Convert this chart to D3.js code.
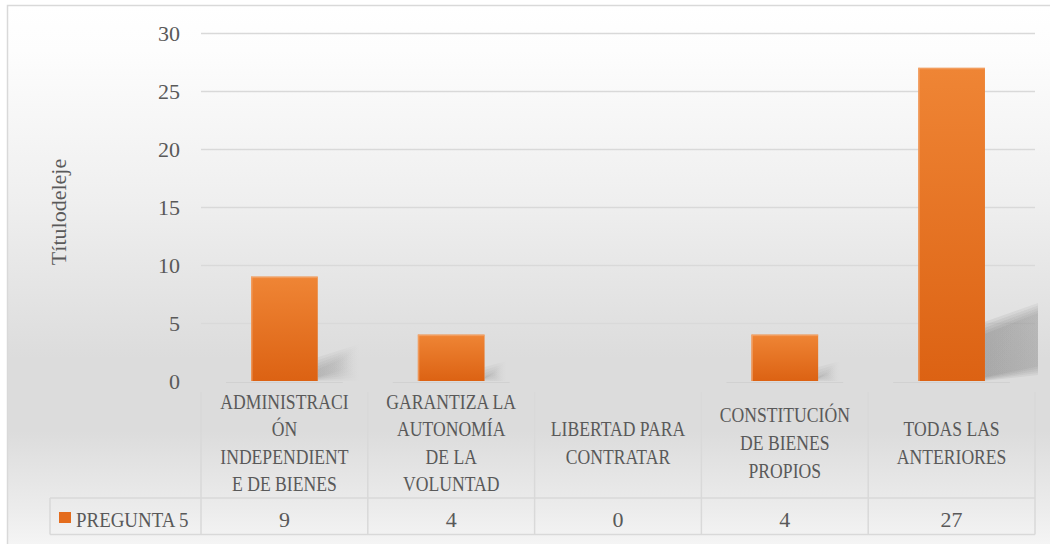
<!DOCTYPE html>
<html><head><meta charset="utf-8">
<script src="https://cdnjs.cloudflare.com/ajax/libs/d3/7.8.5/d3.min.js"></script>
</head><body>
<svg id="c" width="1050" height="544"></svg>
<script>
const categories = ["ADMINISTRACIÓN INDEPENDIENTE DE BIENES","GARANTIZA LA AUTONOMÍA DE LA VOLUNTAD","LIBERTAD PARA CONTRATAR","CONSTITUCIÓN DE BIENES PROPIOS","TODAS LAS ANTERIORES"];
const categoryLines = [["ADMINISTRACI","ÓN","INDEPENDIENT","E DE BIENES"],["GARANTIZA LA","AUTONOMÍA","DE LA","VOLUNTAD"],["LIBERTAD PARA","CONTRATAR"],["CONSTITUCIÓN","DE BIENES","PROPIOS"],["TODAS LAS","ANTERIORES"]];
const seriesName = "PREGUNTA 5";
const values = [9, 4, 0, 4, 27];
const yTicks = [0, 5, 10, 15, 20, 25, 30];
const yTitle = "Títulodeleje";

d3.select("body").style("margin","0px");
const svg = d3.select("#c");
const L = 201, R = 1035, T = 33, B = 381;
const textCol = "#595959", gridCol = "#d9d9d9";
function font(sel, size){ return sel.style("font-family","Liberation Serif").attr("font-size",size); }

const defs = svg.append("defs");
const bg = defs.append("linearGradient").attr("id","bg").attr("x1",0).attr("y1",0).attr("x2",0).attr("y2",1);
[[0,"#ffffff"],[0.08,"#fdfdfd"],[0.35,"#efefef"],[0.63,"#dcdcdc"],[0.76,"#dcdcdc"],[0.9,"#ececec"],[1,"#fafafa"]].forEach(s=>bg.append("stop").attr("offset",s[0]).attr("stop-color",s[1]));
const bar = defs.append("linearGradient").attr("id","bar").attr("x1",0).attr("y1",0).attr("x2",0).attr("y2",1);
[[0,"#ef8535"],[1,"#dc6213"]].forEach(s=>bar.append("stop").attr("offset",s[0]).attr("stop-color",s[1]));
const shg = defs.append("linearGradient").attr("id","shg").attr("x1",0).attr("y1",0).attr("x2",1).attr("y2",0);
[[0,1],[0.5,0.7],[1,0]].forEach(s=>shg.append("stop").attr("offset",s[0]).attr("stop-color","#707070").attr("stop-opacity",s[1]));
defs.append("clipPath").attr("id","plotclip").append("rect").attr("x",L).attr("y",T-10).attr("width",R-L+3).attr("height",B-T+10);

svg.append("rect").attr("x",7.5).attr("y",5.5).attr("width",1060).attr("height",560)
  .attr("fill","url(#bg)").attr("stroke","#d9d9d9").attr("stroke-width",1.5);

const x = d3.scaleBand().domain(categories).range([L,R]).paddingInner(0.6).paddingOuter(0.3);
const col = d3.scaleBand().domain(categories).range([L,R]).padding(0);
const y = d3.scaleLinear().domain([0,30]).range([B,T]);

// gridlines + tick labels
const yAxis = d3.axisLeft(y).tickValues(yTicks).tickSize(-(R-L)).tickFormat(d3.format("d")).tickPadding(21);
const ga = svg.append("g").attr("transform",`translate(${L},0)`).call(yAxis);
ga.attr("font-family",null).attr("font-size",null);
ga.select(".domain").remove();
ga.selectAll(".tick line").attr("stroke",gridCol).attr("stroke-width",1.5).filter(d=>d===0).remove();
font(ga.selectAll(".tick text"),22).attr("fill",textCol).attr("dy","0.36em");

// y title
font(svg.append("text"),22).attr("transform","translate(66,212) rotate(-90)").attr("text-anchor","middle")
  .attr("fill",textCol).text(yTitle);

const dat = values.map((v,i)=>({v,c:categories[i]})).filter(d=>d.v>0);
// soft shadows (layered)
const sh = svg.append("g").attr("clip-path","url(#plotclip)");
const layers = [-6,-3,0,3,6];
dat.forEach(d=>{
  const x1=x(d.c)+x.bandwidth(), h=B-y(d.v), k = d.v>10?1.1:0.75;
  layers.forEach(e=>{
    sh.append("path")
      .attr("d",`M${x1},${B-2+e*0.3} L${x1},${B-h*0.17-e} L${x1+h*0.35+e},${B-h*0.3-e} L${x1+h*0.35+e},${B-h*0.06+e} Z`)
      .attr("fill","url(#shg)").attr("opacity",0.11*k);
  });
});
// base lines
svg.append("g").selectAll("line").data(dat).enter().append("line")
  .attr("x1",d=>x(d.c)-25).attr("x2",d=>x(d.c)+x.bandwidth()+25).attr("y1",B+1.5).attr("y2",B+1.5)
  .attr("stroke","#cfcfcf").attr("stroke-width",1.2).attr("opacity",0.8);

// bars
const bars = svg.append("g");
bars.selectAll("rect.b").data(dat).enter().append("rect")
  .attr("class","b").attr("x",d=>x(d.c)).attr("y",d=>y(d.v)).attr("width",x.bandwidth()).attr("height",d=>B-y(d.v))
  .attr("fill","url(#bar)");
bars.selectAll("rect.h").data(dat).enter().append("rect")
  .attr("class","h").attr("x",d=>x(d.c)).attr("y",d=>y(d.v)).attr("width",1.5).attr("height",d=>B-y(d.v))
  .attr("fill","#f3a76f").attr("opacity",0.7);
bars.selectAll("rect.t").data(dat).enter().append("rect")
  .attr("class","t").attr("x",d=>x(d.c)).attr("y",d=>y(d.v)).attr("width",x.bandwidth()).attr("height",1.5)
  .attr("fill","#f3a76f").attr("opacity",0.7);

// data table
const tl = svg.append("g").attr("stroke",gridCol).attr("stroke-width",1.5);
const rowTop = 498, rowBot = 534.5, sepTop = 392, legL = 50;
col.domain().forEach(c=>{
  tl.append("line").attr("x1",col(c)).attr("x2",col(c)).attr("y1",sepTop).attr("y2",rowBot);
});
tl.append("line").attr("x1",R).attr("x2",R).attr("y1",sepTop).attr("y2",rowBot);
tl.append("line").attr("x1",legL).attr("x2",R).attr("y1",rowTop).attr("y2",rowTop);
tl.append("line").attr("x1",legL).attr("x2",R).attr("y1",rowBot).attr("y2",rowBot);
tl.append("line").attr("x1",legL).attr("x2",legL).attr("y1",rowTop).attr("y2",rowBot);

// category labels
const lh = 27.6, cy = 443;
categories.forEach((c,i)=>{
  const lines = categoryLines[i], cx = col(c)+col.bandwidth()/2;
  lines.forEach((ln,j)=>{
    const by = cy + (j-(lines.length-1)/2)*lh + 7;
    font(svg.append("text"),20.5).attr("transform",`translate(${cx},${by}) scale(0.86,1)`).attr("text-anchor","middle")
      .attr("fill",textCol).text(ln);
  });
  font(svg.append("text"),22).attr("x",cx).attr("y",527).attr("text-anchor","middle")
    .attr("fill",textCol).text(values[i]);
});

// legend cell
svg.append("rect").attr("x",59).attr("y",512).attr("width",12).attr("height",11).attr("fill","#e46c1d");
font(svg.append("text"),21.5).attr("transform","translate(76,527) scale(0.88,1)")
  .attr("fill",textCol).text(seriesName);
</script>
</body></html>
